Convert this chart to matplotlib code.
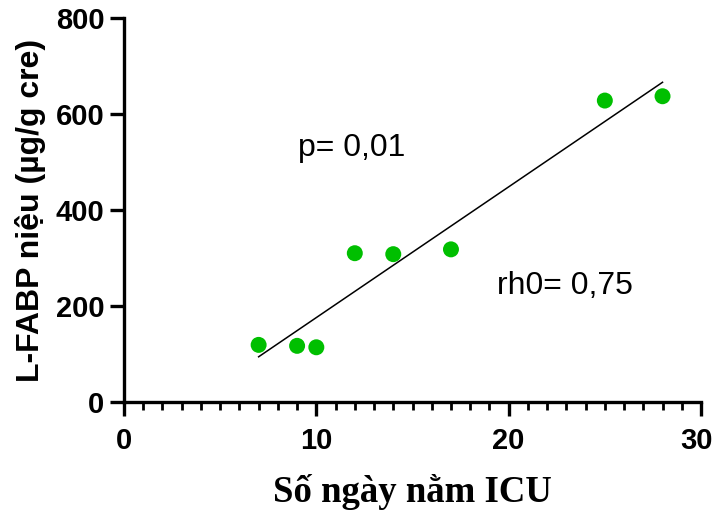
import numpy as np
import matplotlib
matplotlib.use("Agg")
import matplotlib.pyplot as plt
from matplotlib.ticker import MultipleLocator
from matplotlib.transforms import ScaledTranslation

# ICU length of stay (days) and urinary L-FABP (µg/g creatinine)
icu_days = [7, 9, 10, 12, 14, 17, 25, 28]
lfabp = [119, 117, 114, 310, 308, 318, 628, 637]

x_ticks = [0, 10, 20, 30]
y_ticks = [0, 200, 400, 600, 800]

fig = plt.figure(figsize=(7.16, 5.13), dpi=100)
W, H = 716, 513
ax = fig.add_axes([124 / W, 1 - 402 / H, (701 - 124) / W, (402 - 18) / H])

ax.scatter(icu_days, lfabp, s=11.5 ** 2, color="#00BF00", edgecolors="none", zorder=3)

# least-squares trend line over the observed range
slope, intercept = np.polyfit(icu_days, lfabp, 1)
xs = np.array([min(icu_days), max(icu_days)])
ax.plot(xs, slope * xs + intercept, color="black", lw=1.1, zorder=2)

ax.set_xlim(0, 30)
ax.set_ylim(0, 800)
ax.set_xticks(x_ticks)
ax.set_yticks(y_ticks)
ax.xaxis.set_minor_locator(MultipleLocator(1))

for side in ("top", "right"):
    ax.spines[side].set_visible(False)
for side in ("left", "bottom"):
    ax.spines[side].set_linewidth(2.4)
    ax.spines[side].set_capstyle("projecting")

ax.tick_params(axis="both", which="major", length=10, width=2.4, direction="out")
ax.tick_params(axis="x", which="minor", length=5.5, width=2.0)
ax.tick_params(axis="y", which="major", pad=4)
ax.tick_params(axis="x", which="major", pad=8)

for lab in ax.get_xticklabels() + ax.get_yticklabels():
    lab.set_fontfamily("Liberation Sans")
    lab.set_fontweight("bold")
    lab.set_fontsize(21)

# keep the last x tick label inside the canvas
last = ax.get_xticklabels()[-1]
last.set_transform(last.get_transform() + ScaledTranslation(-4 / 100, 0, fig.dpi_scale_trans))

ax.set_xlabel("Số ngày nằm ICU", fontfamily="Liberation Serif", fontweight="bold",
              fontsize=26.5, labelpad=14)
ax.set_ylabel("L-FABP niệu (µg/g cre)", fontfamily="Liberation Sans", fontweight="bold",
              fontsize=23, labelpad=7)

ax.text(9.05, 512, "p= 0,01", fontfamily="Liberation Sans", fontsize=23,
        ha="left", va="baseline")
ax.text(19.4, 226, "rh0= 0,75", fontfamily="Liberation Sans", fontsize=23,
        ha="left", va="baseline")

fig.savefig("out.png", dpi=100)
